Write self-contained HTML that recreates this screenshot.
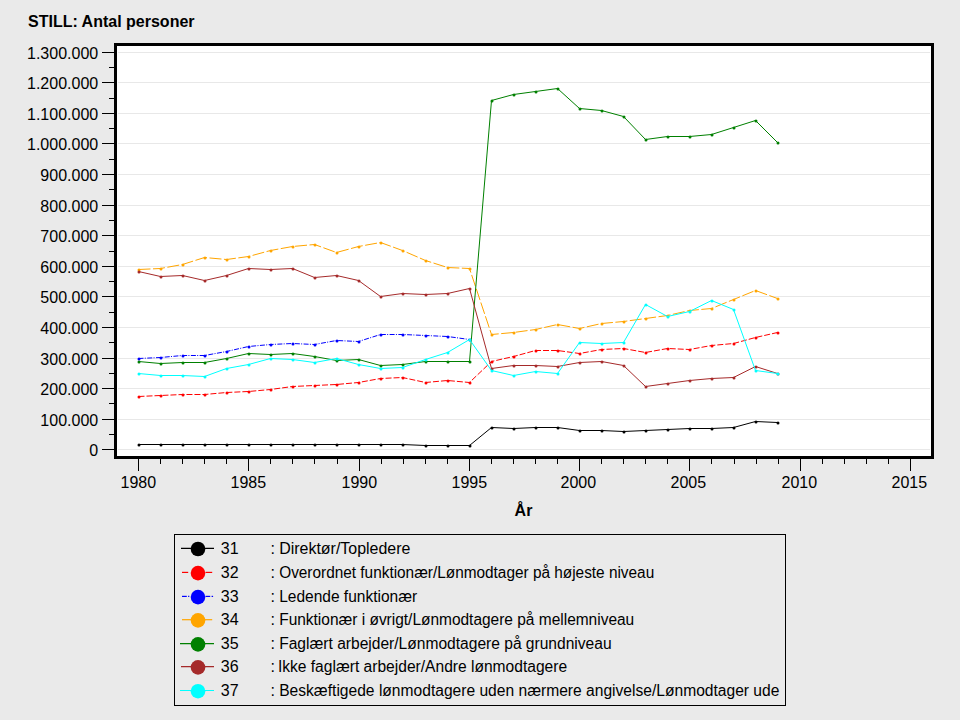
<!DOCTYPE html><html><head><meta charset="utf-8"><style>html,body{margin:0;padding:0;background:#eaeaea;width:960px;height:720px;overflow:hidden}svg{display:block}text{font-family:"Liberation Sans",sans-serif}</style></head><body>
<svg width="960" height="720" viewBox="0 0 960 720">
<rect x="0" y="0" width="960" height="720" fill="#eaeaea"/>
<text x="28" y="26.6" font-size="16" font-weight="bold" fill="#000">STILL: Antal personer</text>
<rect x="115.5" y="44.5" width="817" height="413" fill="#ffffff" stroke="#000" stroke-width="3"/>
<line x1="118" y1="449.5" x2="930" y2="449.5" stroke="#e8e8e8" stroke-width="1"/>
<line x1="118" y1="419.5" x2="930" y2="419.5" stroke="#e8e8e8" stroke-width="1"/>
<line x1="118" y1="388.5" x2="930" y2="388.5" stroke="#e8e8e8" stroke-width="1"/>
<line x1="118" y1="358.5" x2="930" y2="358.5" stroke="#e8e8e8" stroke-width="1"/>
<line x1="118" y1="327.5" x2="930" y2="327.5" stroke="#e8e8e8" stroke-width="1"/>
<line x1="118" y1="296.5" x2="930" y2="296.5" stroke="#e8e8e8" stroke-width="1"/>
<line x1="118" y1="266.5" x2="930" y2="266.5" stroke="#e8e8e8" stroke-width="1"/>
<line x1="118" y1="235.5" x2="930" y2="235.5" stroke="#e8e8e8" stroke-width="1"/>
<line x1="118" y1="205.5" x2="930" y2="205.5" stroke="#e8e8e8" stroke-width="1"/>
<line x1="118" y1="174.5" x2="930" y2="174.5" stroke="#e8e8e8" stroke-width="1"/>
<line x1="118" y1="143.5" x2="930" y2="143.5" stroke="#e8e8e8" stroke-width="1"/>
<line x1="118" y1="113.5" x2="930" y2="113.5" stroke="#e8e8e8" stroke-width="1"/>
<line x1="118" y1="82.5" x2="930" y2="82.5" stroke="#e8e8e8" stroke-width="1"/>
<line x1="118" y1="52.5" x2="930" y2="52.5" stroke="#e8e8e8" stroke-width="1"/>
<line x1="102" y1="449.5" x2="114" y2="449.5" stroke="#000" stroke-width="1"/>
<text x="98.2" y="456" font-size="16" text-anchor="end" fill="#000">0</text>
<line x1="109" y1="434.5" x2="114" y2="434.5" stroke="#000" stroke-width="1"/>
<line x1="102" y1="419.5" x2="114" y2="419.5" stroke="#000" stroke-width="1"/>
<text x="98.2" y="426" font-size="16" text-anchor="end" fill="#000">100.000</text>
<line x1="109" y1="403.5" x2="114" y2="403.5" stroke="#000" stroke-width="1"/>
<line x1="102" y1="388.5" x2="114" y2="388.5" stroke="#000" stroke-width="1"/>
<text x="98.2" y="395" font-size="16" text-anchor="end" fill="#000">200.000</text>
<line x1="109" y1="373.5" x2="114" y2="373.5" stroke="#000" stroke-width="1"/>
<line x1="102" y1="358.5" x2="114" y2="358.5" stroke="#000" stroke-width="1"/>
<text x="98.2" y="365" font-size="16" text-anchor="end" fill="#000">300.000</text>
<line x1="109" y1="342.5" x2="114" y2="342.5" stroke="#000" stroke-width="1"/>
<line x1="102" y1="327.5" x2="114" y2="327.5" stroke="#000" stroke-width="1"/>
<text x="98.2" y="334" font-size="16" text-anchor="end" fill="#000">400.000</text>
<line x1="109" y1="312.5" x2="114" y2="312.5" stroke="#000" stroke-width="1"/>
<line x1="102" y1="296.5" x2="114" y2="296.5" stroke="#000" stroke-width="1"/>
<text x="98.2" y="303" font-size="16" text-anchor="end" fill="#000">500.000</text>
<line x1="109" y1="281.5" x2="114" y2="281.5" stroke="#000" stroke-width="1"/>
<line x1="102" y1="266.5" x2="114" y2="266.5" stroke="#000" stroke-width="1"/>
<text x="98.2" y="273" font-size="16" text-anchor="end" fill="#000">600.000</text>
<line x1="109" y1="251.5" x2="114" y2="251.5" stroke="#000" stroke-width="1"/>
<line x1="102" y1="235.5" x2="114" y2="235.5" stroke="#000" stroke-width="1"/>
<text x="98.2" y="242" font-size="16" text-anchor="end" fill="#000">700.000</text>
<line x1="109" y1="220.5" x2="114" y2="220.5" stroke="#000" stroke-width="1"/>
<line x1="102" y1="205.5" x2="114" y2="205.5" stroke="#000" stroke-width="1"/>
<text x="98.2" y="212" font-size="16" text-anchor="end" fill="#000">800.000</text>
<line x1="109" y1="189.5" x2="114" y2="189.5" stroke="#000" stroke-width="1"/>
<line x1="102" y1="174.5" x2="114" y2="174.5" stroke="#000" stroke-width="1"/>
<text x="98.2" y="181" font-size="16" text-anchor="end" fill="#000">900.000</text>
<line x1="109" y1="159.5" x2="114" y2="159.5" stroke="#000" stroke-width="1"/>
<line x1="102" y1="143.5" x2="114" y2="143.5" stroke="#000" stroke-width="1"/>
<text x="98.2" y="150" font-size="16" text-anchor="end" fill="#000">1.000.000</text>
<line x1="109" y1="128.5" x2="114" y2="128.5" stroke="#000" stroke-width="1"/>
<line x1="102" y1="113.5" x2="114" y2="113.5" stroke="#000" stroke-width="1"/>
<text x="98.2" y="120" font-size="16" text-anchor="end" fill="#000">1.100.000</text>
<line x1="109" y1="98.5" x2="114" y2="98.5" stroke="#000" stroke-width="1"/>
<line x1="102" y1="82.5" x2="114" y2="82.5" stroke="#000" stroke-width="1"/>
<text x="98.2" y="89" font-size="16" text-anchor="end" fill="#000">1.200.000</text>
<line x1="109" y1="67.5" x2="114" y2="67.5" stroke="#000" stroke-width="1"/>
<line x1="102" y1="52.5" x2="114" y2="52.5" stroke="#000" stroke-width="1"/>
<text x="98.2" y="59" font-size="16" text-anchor="end" fill="#000">1.300.000</text>
<line x1="138.5" y1="459" x2="138.5" y2="471" stroke="#000" stroke-width="1"/>
<text x="138.3" y="487.8" font-size="16" text-anchor="middle" fill="#000">1980</text>
<line x1="160.5" y1="459" x2="160.5" y2="464" stroke="#000" stroke-width="1"/>
<line x1="182.5" y1="459" x2="182.5" y2="464" stroke="#000" stroke-width="1"/>
<line x1="204.5" y1="459" x2="204.5" y2="464" stroke="#000" stroke-width="1"/>
<line x1="226.5" y1="459" x2="226.5" y2="464" stroke="#000" stroke-width="1"/>
<line x1="248.5" y1="459" x2="248.5" y2="471" stroke="#000" stroke-width="1"/>
<text x="248.3" y="487.8" font-size="16" text-anchor="middle" fill="#000">1985</text>
<line x1="270.5" y1="459" x2="270.5" y2="464" stroke="#000" stroke-width="1"/>
<line x1="292.5" y1="459" x2="292.5" y2="464" stroke="#000" stroke-width="1"/>
<line x1="314.5" y1="459" x2="314.5" y2="464" stroke="#000" stroke-width="1"/>
<line x1="337.5" y1="459" x2="337.5" y2="464" stroke="#000" stroke-width="1"/>
<line x1="359.5" y1="459" x2="359.5" y2="471" stroke="#000" stroke-width="1"/>
<text x="359.3" y="487.8" font-size="16" text-anchor="middle" fill="#000">1990</text>
<line x1="381.5" y1="459" x2="381.5" y2="464" stroke="#000" stroke-width="1"/>
<line x1="403.5" y1="459" x2="403.5" y2="464" stroke="#000" stroke-width="1"/>
<line x1="425.5" y1="459" x2="425.5" y2="464" stroke="#000" stroke-width="1"/>
<line x1="447.5" y1="459" x2="447.5" y2="464" stroke="#000" stroke-width="1"/>
<line x1="469.5" y1="459" x2="469.5" y2="471" stroke="#000" stroke-width="1"/>
<text x="469.3" y="487.8" font-size="16" text-anchor="middle" fill="#000">1995</text>
<line x1="491.5" y1="459" x2="491.5" y2="464" stroke="#000" stroke-width="1"/>
<line x1="513.5" y1="459" x2="513.5" y2="464" stroke="#000" stroke-width="1"/>
<line x1="535.5" y1="459" x2="535.5" y2="464" stroke="#000" stroke-width="1"/>
<line x1="557.5" y1="459" x2="557.5" y2="464" stroke="#000" stroke-width="1"/>
<line x1="579.5" y1="459" x2="579.5" y2="471" stroke="#000" stroke-width="1"/>
<text x="578.3" y="487.8" font-size="16" text-anchor="middle" fill="#000">2000</text>
<line x1="601.5" y1="459" x2="601.5" y2="464" stroke="#000" stroke-width="1"/>
<line x1="623.5" y1="459" x2="623.5" y2="464" stroke="#000" stroke-width="1"/>
<line x1="645.5" y1="459" x2="645.5" y2="464" stroke="#000" stroke-width="1"/>
<line x1="667.5" y1="459" x2="667.5" y2="464" stroke="#000" stroke-width="1"/>
<line x1="689.5" y1="459" x2="689.5" y2="471" stroke="#000" stroke-width="1"/>
<text x="688.3" y="487.8" font-size="16" text-anchor="middle" fill="#000">2005</text>
<line x1="711.5" y1="459" x2="711.5" y2="464" stroke="#000" stroke-width="1"/>
<line x1="734.5" y1="459" x2="734.5" y2="464" stroke="#000" stroke-width="1"/>
<line x1="756.5" y1="459" x2="756.5" y2="464" stroke="#000" stroke-width="1"/>
<line x1="778.5" y1="459" x2="778.5" y2="464" stroke="#000" stroke-width="1"/>
<line x1="800.5" y1="459" x2="800.5" y2="471" stroke="#000" stroke-width="1"/>
<text x="799.3" y="487.8" font-size="16" text-anchor="middle" fill="#000">2010</text>
<line x1="822.5" y1="459" x2="822.5" y2="464" stroke="#000" stroke-width="1"/>
<line x1="844.5" y1="459" x2="844.5" y2="464" stroke="#000" stroke-width="1"/>
<line x1="866.5" y1="459" x2="866.5" y2="464" stroke="#000" stroke-width="1"/>
<line x1="888.5" y1="459" x2="888.5" y2="464" stroke="#000" stroke-width="1"/>
<line x1="910.5" y1="459" x2="910.5" y2="471" stroke="#000" stroke-width="1"/>
<text x="909.3" y="487.8" font-size="16" text-anchor="middle" fill="#000">2015</text>
<text x="523.5" y="515.8" font-size="16" font-weight="bold" text-anchor="middle" fill="#000">År</text>
<g clip-path="url(#cp)">
<clipPath id="cp"><rect x="117" y="46" width="814" height="410"/></clipPath>
<polyline points="138.5,444.5 160.5,444.5 182.5,444.5 204.5,444.5 226.5,444.5 248.5,444.5 270.5,444.5 292.5,444.5 314.5,444.5 336.5,444.5 358.5,444.5 380.5,444.5 402.5,444.5 425.5,445.5 447.5,445.5 469.5,445.5 491.5,427.5 513.5,428.5 535.5,427.5 557.5,427.5 579.5,430.5 601.5,430.5 623.5,431.5 645.5,430.5 667.5,429.5 689.5,428.5 711.5,428.5 733.5,427.5 755.5,421.5 777.5,422.5" fill="none" stroke="#000000" stroke-width="1.0"/>
<circle cx="139" cy="445" r="1.5" fill="#000000"/>
<circle cx="161" cy="445" r="1.5" fill="#000000"/>
<circle cx="183" cy="445" r="1.5" fill="#000000"/>
<circle cx="205" cy="445" r="1.5" fill="#000000"/>
<circle cx="227" cy="445" r="1.5" fill="#000000"/>
<circle cx="249" cy="445" r="1.5" fill="#000000"/>
<circle cx="271" cy="445" r="1.5" fill="#000000"/>
<circle cx="293" cy="445" r="1.5" fill="#000000"/>
<circle cx="315" cy="445" r="1.5" fill="#000000"/>
<circle cx="337" cy="445" r="1.5" fill="#000000"/>
<circle cx="359" cy="445" r="1.5" fill="#000000"/>
<circle cx="381" cy="445" r="1.5" fill="#000000"/>
<circle cx="403" cy="445" r="1.5" fill="#000000"/>
<circle cx="426" cy="446" r="1.5" fill="#000000"/>
<circle cx="448" cy="446" r="1.5" fill="#000000"/>
<circle cx="470" cy="446" r="1.5" fill="#000000"/>
<circle cx="492" cy="428" r="1.5" fill="#000000"/>
<circle cx="514" cy="429" r="1.5" fill="#000000"/>
<circle cx="536" cy="428" r="1.5" fill="#000000"/>
<circle cx="558" cy="428" r="1.5" fill="#000000"/>
<circle cx="580" cy="431" r="1.5" fill="#000000"/>
<circle cx="602" cy="431" r="1.5" fill="#000000"/>
<circle cx="624" cy="432" r="1.5" fill="#000000"/>
<circle cx="646" cy="431" r="1.5" fill="#000000"/>
<circle cx="668" cy="430" r="1.5" fill="#000000"/>
<circle cx="690" cy="429" r="1.5" fill="#000000"/>
<circle cx="712" cy="429" r="1.5" fill="#000000"/>
<circle cx="734" cy="428" r="1.5" fill="#000000"/>
<circle cx="756" cy="422" r="1.5" fill="#000000"/>
<circle cx="778" cy="423" r="1.5" fill="#000000"/>
<polyline points="138.5,396.5 160.5,395.5 182.5,394.5 204.5,394.5 226.5,392.5 248.5,391.5 270.5,389.5 292.5,386.5 314.5,385.5 336.5,384.5 358.5,382.5 380.5,378.5 402.5,377.5 425.5,382.5 447.5,380.5 469.5,382.5 491.5,361.5 513.5,356.5 535.5,350.5 557.5,350.5 579.5,353.5 601.5,349.5 623.5,348.5 645.5,352.5 667.5,348.5 689.5,349.5 711.5,345.5 733.5,343.5 755.5,337.5 777.5,332.5" fill="none" stroke="#ff0000" stroke-width="1.0" stroke-dasharray="6,2"/>
<circle cx="139" cy="397" r="1.5" fill="#ff0000"/>
<circle cx="161" cy="396" r="1.5" fill="#ff0000"/>
<circle cx="183" cy="395" r="1.5" fill="#ff0000"/>
<circle cx="205" cy="395" r="1.5" fill="#ff0000"/>
<circle cx="227" cy="393" r="1.5" fill="#ff0000"/>
<circle cx="249" cy="392" r="1.5" fill="#ff0000"/>
<circle cx="271" cy="390" r="1.5" fill="#ff0000"/>
<circle cx="293" cy="387" r="1.5" fill="#ff0000"/>
<circle cx="315" cy="386" r="1.5" fill="#ff0000"/>
<circle cx="337" cy="385" r="1.5" fill="#ff0000"/>
<circle cx="359" cy="383" r="1.5" fill="#ff0000"/>
<circle cx="381" cy="379" r="1.5" fill="#ff0000"/>
<circle cx="403" cy="378" r="1.5" fill="#ff0000"/>
<circle cx="426" cy="383" r="1.5" fill="#ff0000"/>
<circle cx="448" cy="381" r="1.5" fill="#ff0000"/>
<circle cx="470" cy="383" r="1.5" fill="#ff0000"/>
<circle cx="492" cy="362" r="1.5" fill="#ff0000"/>
<circle cx="514" cy="357" r="1.5" fill="#ff0000"/>
<circle cx="536" cy="351" r="1.5" fill="#ff0000"/>
<circle cx="558" cy="351" r="1.5" fill="#ff0000"/>
<circle cx="580" cy="354" r="1.5" fill="#ff0000"/>
<circle cx="602" cy="350" r="1.5" fill="#ff0000"/>
<circle cx="624" cy="349" r="1.5" fill="#ff0000"/>
<circle cx="646" cy="353" r="1.5" fill="#ff0000"/>
<circle cx="668" cy="349" r="1.5" fill="#ff0000"/>
<circle cx="690" cy="350" r="1.5" fill="#ff0000"/>
<circle cx="712" cy="346" r="1.5" fill="#ff0000"/>
<circle cx="734" cy="344" r="1.5" fill="#ff0000"/>
<circle cx="756" cy="338" r="1.5" fill="#ff0000"/>
<circle cx="778" cy="333" r="1.5" fill="#ff0000"/>
<polyline points="138.5,358.5 160.5,357.5 182.5,355.5 204.5,355.5 226.5,351.5 248.5,346.5 270.5,344.5 292.5,343.5 314.5,344.5 336.5,340.5 358.5,341.5 380.5,334.5 402.5,334.5 425.5,335.5 447.5,336.5 469.5,339.5" fill="none" stroke="#0000ff" stroke-width="1.0" stroke-dasharray="5,1.3,1,1.45"/>
<circle cx="139" cy="359" r="1.5" fill="#0000ff"/>
<circle cx="161" cy="358" r="1.5" fill="#0000ff"/>
<circle cx="183" cy="356" r="1.5" fill="#0000ff"/>
<circle cx="205" cy="356" r="1.5" fill="#0000ff"/>
<circle cx="227" cy="352" r="1.5" fill="#0000ff"/>
<circle cx="249" cy="347" r="1.5" fill="#0000ff"/>
<circle cx="271" cy="345" r="1.5" fill="#0000ff"/>
<circle cx="293" cy="344" r="1.5" fill="#0000ff"/>
<circle cx="315" cy="345" r="1.5" fill="#0000ff"/>
<circle cx="337" cy="341" r="1.5" fill="#0000ff"/>
<circle cx="359" cy="342" r="1.5" fill="#0000ff"/>
<circle cx="381" cy="335" r="1.5" fill="#0000ff"/>
<circle cx="403" cy="335" r="1.5" fill="#0000ff"/>
<circle cx="426" cy="336" r="1.5" fill="#0000ff"/>
<circle cx="448" cy="337" r="1.5" fill="#0000ff"/>
<circle cx="470" cy="340" r="1.5" fill="#0000ff"/>
<polyline points="138.5,269.5 160.5,268.5 182.5,264.5 204.5,257.5 226.5,259.5 248.5,256.5 270.5,250.5 292.5,246.5 314.5,244.5 336.5,252.5 358.5,246.5 380.5,242.5 402.5,250.5 425.5,260.5 447.5,267.5 469.5,268.5 491.5,334.5 513.5,332.5 535.5,329.5 557.5,324.5 579.5,328.5 601.5,323.5 623.5,321.5 645.5,318.5 667.5,315.5 689.5,310.5 711.5,308.5 733.5,299.5 755.5,290.5 777.5,298.5" fill="none" stroke="#ffa500" stroke-width="1.0" stroke-dasharray="12,2.5"/>
<circle cx="139" cy="270" r="1.5" fill="#ffa500"/>
<circle cx="161" cy="269" r="1.5" fill="#ffa500"/>
<circle cx="183" cy="265" r="1.5" fill="#ffa500"/>
<circle cx="205" cy="258" r="1.5" fill="#ffa500"/>
<circle cx="227" cy="260" r="1.5" fill="#ffa500"/>
<circle cx="249" cy="257" r="1.5" fill="#ffa500"/>
<circle cx="271" cy="251" r="1.5" fill="#ffa500"/>
<circle cx="293" cy="247" r="1.5" fill="#ffa500"/>
<circle cx="315" cy="245" r="1.5" fill="#ffa500"/>
<circle cx="337" cy="253" r="1.5" fill="#ffa500"/>
<circle cx="359" cy="247" r="1.5" fill="#ffa500"/>
<circle cx="381" cy="243" r="1.5" fill="#ffa500"/>
<circle cx="403" cy="251" r="1.5" fill="#ffa500"/>
<circle cx="426" cy="261" r="1.5" fill="#ffa500"/>
<circle cx="448" cy="268" r="1.5" fill="#ffa500"/>
<circle cx="470" cy="269" r="1.5" fill="#ffa500"/>
<circle cx="492" cy="335" r="1.5" fill="#ffa500"/>
<circle cx="514" cy="333" r="1.5" fill="#ffa500"/>
<circle cx="536" cy="330" r="1.5" fill="#ffa500"/>
<circle cx="558" cy="325" r="1.5" fill="#ffa500"/>
<circle cx="580" cy="329" r="1.5" fill="#ffa500"/>
<circle cx="602" cy="324" r="1.5" fill="#ffa500"/>
<circle cx="624" cy="322" r="1.5" fill="#ffa500"/>
<circle cx="646" cy="319" r="1.5" fill="#ffa500"/>
<circle cx="668" cy="316" r="1.5" fill="#ffa500"/>
<circle cx="690" cy="311" r="1.5" fill="#ffa500"/>
<circle cx="712" cy="309" r="1.5" fill="#ffa500"/>
<circle cx="734" cy="300" r="1.5" fill="#ffa500"/>
<circle cx="756" cy="291" r="1.5" fill="#ffa500"/>
<circle cx="778" cy="299" r="1.5" fill="#ffa500"/>
<polyline points="138.5,361.5 160.5,363.5 182.5,362.5 204.5,362.5 226.5,358.5 248.5,353.5 270.5,354.5 292.5,353.5 314.5,356.5 336.5,360.5 358.5,359.5 380.5,365.5 402.5,364.5 425.5,361.5 447.5,361.5 469.5,361.5 491.5,100.5 513.5,94.5 535.5,91.5 557.5,88.5 579.5,108.5 601.5,110.5 623.5,116.5 645.5,139.5 667.5,136.5 689.5,136.5 711.5,134.5 733.5,127.5 755.5,120.5 777.5,142.5" fill="none" stroke="#008000" stroke-width="1.0"/>
<circle cx="139" cy="362" r="1.5" fill="#008000"/>
<circle cx="161" cy="364" r="1.5" fill="#008000"/>
<circle cx="183" cy="363" r="1.5" fill="#008000"/>
<circle cx="205" cy="363" r="1.5" fill="#008000"/>
<circle cx="227" cy="359" r="1.5" fill="#008000"/>
<circle cx="249" cy="354" r="1.5" fill="#008000"/>
<circle cx="271" cy="355" r="1.5" fill="#008000"/>
<circle cx="293" cy="354" r="1.5" fill="#008000"/>
<circle cx="315" cy="357" r="1.5" fill="#008000"/>
<circle cx="337" cy="361" r="1.5" fill="#008000"/>
<circle cx="359" cy="360" r="1.5" fill="#008000"/>
<circle cx="381" cy="366" r="1.5" fill="#008000"/>
<circle cx="403" cy="365" r="1.5" fill="#008000"/>
<circle cx="426" cy="362" r="1.5" fill="#008000"/>
<circle cx="448" cy="362" r="1.5" fill="#008000"/>
<circle cx="470" cy="362" r="1.5" fill="#008000"/>
<circle cx="492" cy="101" r="1.5" fill="#008000"/>
<circle cx="514" cy="95" r="1.5" fill="#008000"/>
<circle cx="536" cy="92" r="1.5" fill="#008000"/>
<circle cx="558" cy="89" r="1.5" fill="#008000"/>
<circle cx="580" cy="109" r="1.5" fill="#008000"/>
<circle cx="602" cy="111" r="1.5" fill="#008000"/>
<circle cx="624" cy="117" r="1.5" fill="#008000"/>
<circle cx="646" cy="140" r="1.5" fill="#008000"/>
<circle cx="668" cy="137" r="1.5" fill="#008000"/>
<circle cx="690" cy="137" r="1.5" fill="#008000"/>
<circle cx="712" cy="135" r="1.5" fill="#008000"/>
<circle cx="734" cy="128" r="1.5" fill="#008000"/>
<circle cx="756" cy="121" r="1.5" fill="#008000"/>
<circle cx="778" cy="143" r="1.5" fill="#008000"/>
<polyline points="138.5,271.5 160.5,276.5 182.5,275.5 204.5,280.5 226.5,275.5 248.5,268.5 270.5,269.5 292.5,268.5 314.5,277.5 336.5,275.5 358.5,280.5 380.5,296.5 402.5,293.5 425.5,294.5 447.5,293.5 469.5,288.5 491.5,368.5 513.5,365.5 535.5,365.5 557.5,366.5 579.5,362.5 601.5,361.5 623.5,365.5 645.5,386.5 667.5,383.5 689.5,380.5 711.5,378.5 733.5,377.5 755.5,366.5 777.5,373.5" fill="none" stroke="#a52a2a" stroke-width="1.0"/>
<circle cx="139" cy="272" r="1.5" fill="#a52a2a"/>
<circle cx="161" cy="277" r="1.5" fill="#a52a2a"/>
<circle cx="183" cy="276" r="1.5" fill="#a52a2a"/>
<circle cx="205" cy="281" r="1.5" fill="#a52a2a"/>
<circle cx="227" cy="276" r="1.5" fill="#a52a2a"/>
<circle cx="249" cy="269" r="1.5" fill="#a52a2a"/>
<circle cx="271" cy="270" r="1.5" fill="#a52a2a"/>
<circle cx="293" cy="269" r="1.5" fill="#a52a2a"/>
<circle cx="315" cy="278" r="1.5" fill="#a52a2a"/>
<circle cx="337" cy="276" r="1.5" fill="#a52a2a"/>
<circle cx="359" cy="281" r="1.5" fill="#a52a2a"/>
<circle cx="381" cy="297" r="1.5" fill="#a52a2a"/>
<circle cx="403" cy="294" r="1.5" fill="#a52a2a"/>
<circle cx="426" cy="295" r="1.5" fill="#a52a2a"/>
<circle cx="448" cy="294" r="1.5" fill="#a52a2a"/>
<circle cx="470" cy="289" r="1.5" fill="#a52a2a"/>
<circle cx="492" cy="369" r="1.5" fill="#a52a2a"/>
<circle cx="514" cy="366" r="1.5" fill="#a52a2a"/>
<circle cx="536" cy="366" r="1.5" fill="#a52a2a"/>
<circle cx="558" cy="367" r="1.5" fill="#a52a2a"/>
<circle cx="580" cy="363" r="1.5" fill="#a52a2a"/>
<circle cx="602" cy="362" r="1.5" fill="#a52a2a"/>
<circle cx="624" cy="366" r="1.5" fill="#a52a2a"/>
<circle cx="646" cy="387" r="1.5" fill="#a52a2a"/>
<circle cx="668" cy="384" r="1.5" fill="#a52a2a"/>
<circle cx="690" cy="381" r="1.5" fill="#a52a2a"/>
<circle cx="712" cy="379" r="1.5" fill="#a52a2a"/>
<circle cx="734" cy="378" r="1.5" fill="#a52a2a"/>
<circle cx="756" cy="367" r="1.5" fill="#a52a2a"/>
<circle cx="778" cy="374" r="1.5" fill="#a52a2a"/>
<polyline points="138.5,373.5 160.5,375.5 182.5,375.5 204.5,376.5 226.5,368.5 248.5,364.5 270.5,358.5 292.5,359.5 314.5,362.5 336.5,358.5 358.5,364.5 380.5,368.5 402.5,367.5 425.5,359.5 447.5,352.5 469.5,339.5 491.5,370.5 513.5,375.5 535.5,371.5 557.5,373.5 579.5,342.5 601.5,343.5 623.5,342.5 645.5,304.5 667.5,316.5 689.5,311.5 711.5,300.5 733.5,309.5 755.5,370.5 777.5,373.5" fill="none" stroke="#00ffff" stroke-width="1.0"/>
<circle cx="139" cy="374" r="1.5" fill="#00ffff"/>
<circle cx="161" cy="376" r="1.5" fill="#00ffff"/>
<circle cx="183" cy="376" r="1.5" fill="#00ffff"/>
<circle cx="205" cy="377" r="1.5" fill="#00ffff"/>
<circle cx="227" cy="369" r="1.5" fill="#00ffff"/>
<circle cx="249" cy="365" r="1.5" fill="#00ffff"/>
<circle cx="271" cy="359" r="1.5" fill="#00ffff"/>
<circle cx="293" cy="360" r="1.5" fill="#00ffff"/>
<circle cx="315" cy="363" r="1.5" fill="#00ffff"/>
<circle cx="337" cy="359" r="1.5" fill="#00ffff"/>
<circle cx="359" cy="365" r="1.5" fill="#00ffff"/>
<circle cx="381" cy="369" r="1.5" fill="#00ffff"/>
<circle cx="403" cy="368" r="1.5" fill="#00ffff"/>
<circle cx="426" cy="360" r="1.5" fill="#00ffff"/>
<circle cx="448" cy="353" r="1.5" fill="#00ffff"/>
<circle cx="470" cy="340" r="1.5" fill="#00ffff"/>
<circle cx="492" cy="371" r="1.5" fill="#00ffff"/>
<circle cx="514" cy="376" r="1.5" fill="#00ffff"/>
<circle cx="536" cy="372" r="1.5" fill="#00ffff"/>
<circle cx="558" cy="374" r="1.5" fill="#00ffff"/>
<circle cx="580" cy="343" r="1.5" fill="#00ffff"/>
<circle cx="602" cy="344" r="1.5" fill="#00ffff"/>
<circle cx="624" cy="343" r="1.5" fill="#00ffff"/>
<circle cx="646" cy="305" r="1.5" fill="#00ffff"/>
<circle cx="668" cy="317" r="1.5" fill="#00ffff"/>
<circle cx="690" cy="312" r="1.5" fill="#00ffff"/>
<circle cx="712" cy="301" r="1.5" fill="#00ffff"/>
<circle cx="734" cy="310" r="1.5" fill="#00ffff"/>
<circle cx="756" cy="371" r="1.5" fill="#00ffff"/>
<circle cx="778" cy="374" r="1.5" fill="#00ffff"/>
</g>
<rect x="174.5" y="534.5" width="611" height="171" fill="none" stroke="#000" stroke-width="1"/>
<line x1="181" y1="548.3" x2="214" y2="548.3" stroke="#000000" stroke-width="1.2"/>
<circle cx="198" cy="549.0" r="7.3" fill="#000000"/>
<text x="220.8" y="553.9" font-size="16" fill="#000">31</text>
<text x="270.4" y="553.9" font-size="16" fill="#000">:</text>
<text x="279.2" y="553.9" font-size="16" fill="#000" textLength="131.2" lengthAdjust="spacingAndGlyphs">Direktør/Topledere</text>
<line x1="182" y1="572.4" x2="188.2" y2="572.4" stroke="#ff0000" stroke-width="1.2"/>
<line x1="205.5" y1="572.4" x2="212.2" y2="572.4" stroke="#ff0000" stroke-width="1.2"/>
<circle cx="198" cy="573.1" r="7.3" fill="#ff0000"/>
<text x="220.8" y="578.0" font-size="16" fill="#000">32</text>
<text x="270.4" y="578.0" font-size="16" fill="#000">:</text>
<text x="279.2" y="578.0" font-size="16" fill="#000" textLength="375.0" lengthAdjust="spacingAndGlyphs">Overordnet funktionær/Lønmodtager på højeste niveau</text>
<line x1="182" y1="596.4" x2="186.8" y2="596.4" stroke="#0000ff" stroke-width="1.2"/>
<line x1="188.1" y1="596.4" x2="189.3" y2="596.4" stroke="#0000ff" stroke-width="1.2"/>
<line x1="205.5" y1="596.4" x2="210.2" y2="596.4" stroke="#0000ff" stroke-width="1.2"/>
<line x1="211.6" y1="596.4" x2="213.1" y2="596.4" stroke="#0000ff" stroke-width="1.2"/>
<circle cx="198" cy="597.1" r="7.3" fill="#0000ff"/>
<text x="220.8" y="602.0" font-size="16" fill="#000">33</text>
<text x="270.4" y="602.0" font-size="16" fill="#000">:</text>
<text x="279.2" y="602.0" font-size="16" fill="#000" textLength="137.9" lengthAdjust="spacingAndGlyphs">Ledende funktionær</text>
<line x1="182" y1="619.7" x2="212.2" y2="619.7" stroke="#ffa500" stroke-width="1.2"/>
<circle cx="198" cy="620.4000000000001" r="7.3" fill="#ffa500"/>
<text x="220.8" y="625.3000000000001" font-size="16" fill="#000">34</text>
<text x="270.4" y="625.3000000000001" font-size="16" fill="#000">:</text>
<text x="279.2" y="625.3000000000001" font-size="16" fill="#000" textLength="355.0" lengthAdjust="spacingAndGlyphs">Funktionær i øvrigt/Lønmodtagere på mellemniveau</text>
<line x1="180" y1="643.7" x2="214" y2="643.7" stroke="#008000" stroke-width="1.2"/>
<circle cx="198" cy="644.4000000000001" r="7.3" fill="#008000"/>
<text x="220.8" y="649.3000000000001" font-size="16" fill="#000">35</text>
<text x="270.4" y="649.3000000000001" font-size="16" fill="#000">:</text>
<text x="279.2" y="649.3000000000001" font-size="16" fill="#000" textLength="332.4" lengthAdjust="spacingAndGlyphs">Faglært arbejder/Lønmodtagere på grundniveau</text>
<line x1="181" y1="666.7" x2="214" y2="666.7" stroke="#a52a2a" stroke-width="1.2"/>
<circle cx="198" cy="667.4000000000001" r="7.3" fill="#a52a2a"/>
<text x="220.8" y="672.3000000000001" font-size="16" fill="#000">36</text>
<text x="270.4" y="672.3000000000001" font-size="16" fill="#000">:</text>
<text x="277.9" y="672.3000000000001" font-size="16" fill="#000" textLength="289.2" lengthAdjust="spacingAndGlyphs">Ikke faglært arbejder/Andre lønmodtagere</text>
<line x1="180" y1="690.5" x2="214" y2="690.5" stroke="#00ffff" stroke-width="1.2"/>
<circle cx="198" cy="691.2" r="7.3" fill="#00ffff"/>
<text x="220.8" y="696.1" font-size="16" fill="#000">37</text>
<text x="270.4" y="696.1" font-size="16" fill="#000">:</text>
<text x="279.2" y="696.1" font-size="16" fill="#000" textLength="500.2" lengthAdjust="spacingAndGlyphs">Beskæftigede lønmodtagere uden nærmere angivelse/Lønmodtager ude</text>
</svg></body></html>
